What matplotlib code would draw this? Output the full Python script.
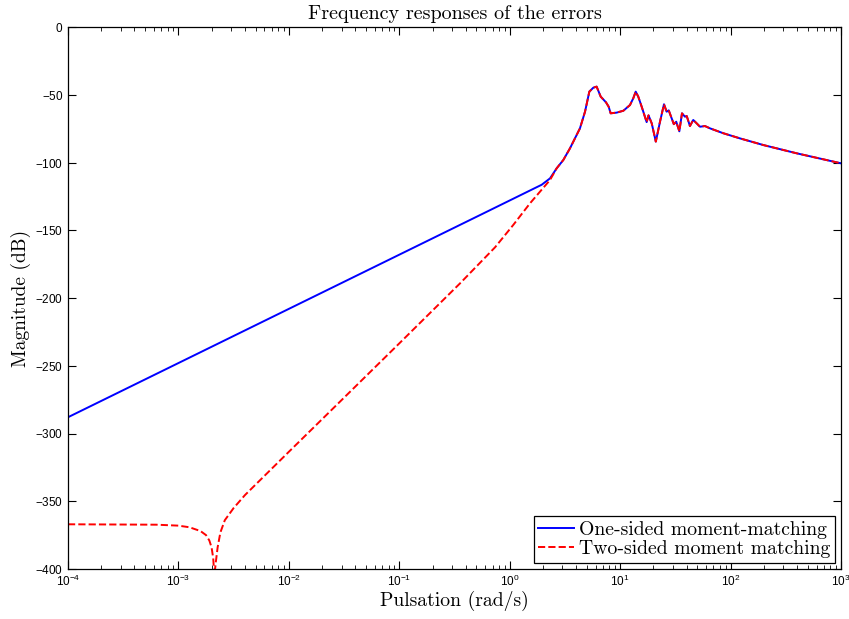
import numpy as np
import matplotlib
matplotlib.use("Agg")
import matplotlib.pyplot as plt
from matplotlib.ticker import LogLocator, NullFormatter

plt.rcParams["mathtext.fontset"] = "custom"
plt.rcParams["mathtext.rm"] = "Liberation Sans"
plt.rcParams["font.family"] = "Liberation Sans"
plt.rcParams["axes.formatter.use_mathtext"] = True

# log10 of the pulsation and the error magnitude in dB
# resonant part, common to both reduced models
lw_hf = [0.425, 0.485, 0.546, 0.636, 0.682, 0.721, 0.757, 0.787, 0.824, 0.872, 0.896,
         0.914, 0.968, 1.029, 1.089, 1.119, 1.141, 1.164, 1.195, 1.240, 1.257,
         1.286, 1.323, 1.361, 1.397, 1.421, 1.440, 1.486, 1.508, 1.536, 1.560,
         1.587, 1.603, 1.632, 1.662, 1.693, 1.723, 1.768, 1.814, 1.934, 2.085,
         2.296, 2.598, 3.0]
db_hf = [-104.3, -98.2, -89.5, -74.8, -62.5, -47.7, -44.8, -44.0, -51.4, -55.6, -58.8,
         -63.7, -63.2, -61.8, -57.6, -52.6, -47.7, -51.4, -58.8, -70.2, -65.2,
         -71.1, -84.6, -69.9, -57.0, -62.5, -61.5, -71.7, -69.9, -77.0, -63.7,
         -66.2, -65.7, -73.1, -68.6, -71.1, -73.6, -73.1, -74.8, -78.4, -82.2,
         -87.1, -93.2, -100.6]

# low frequency part, one-sided
lw_one = [-4.0, -0.269, 0.29, 0.365]
db_one = [-288.0, -138.8, -116.4, -111.7]

# low frequency part, two-sided
lw_two = [-4.0, -3.2, -3.0, -2.9, -2.8, -2.75, -2.72, -2.70, -2.685, -2.675,
          -2.66, -2.645, -2.62, -2.58, -2.5, -2.397, -2.0, -1.537, -1.0, -0.45,
          -0.133, 0.032, 0.184, 0.365]
db_two = [-367.0, -367.3, -368.0, -369.2, -372.0, -375.0, -379.0, -384.0, -392.0, -405.0,
          -394.0, -384.0, -373.0, -364.0, -355.0, -345.4, -313.5, -276.5, -233.5, -189.2,
          -162.6, -146.1, -130.1, -112.9]

w_one = 10.0 ** np.array(lw_one + lw_hf)
m_one = np.array(db_one + db_hf)
w_two = 10.0 ** np.array(lw_two + lw_hf)
m_two = np.array(db_two + db_hf)

fig = plt.figure(figsize=(8.49, 6.19), dpi=100)
ax = fig.add_axes([68 / 849, 1 - 569 / 619, 773 / 849, 542 / 619])

ax.semilogx(w_one, m_one, "b-", lw=1.4, label="One-sided moment-matching")
ax.semilogx(w_two, m_two, "r--", lw=1.4, label="Two-sided moment matching")

ax.set_xlim(1e-4, 1e3)
ax.set_ylim(-400, 0)
ax.set_yticks(np.arange(-400, 1, 50))
ax.xaxis.set_major_locator(LogLocator(base=10, numticks=20))
ax.xaxis.set_minor_locator(LogLocator(base=10, subs=np.arange(2, 10), numticks=20))
ax.xaxis.set_minor_formatter(NullFormatter())
ax.tick_params(which="both", direction="in", top=True, right=True, labelsize=8.5)
ax.tick_params(which="major", length=6, width=0.8)
ax.tick_params(which="minor", length=3, width=0.6)
for s in ax.spines.values():
    s.set_linewidth(0.9)

ax.set_title("Frequency responses of the errors", fontfamily="cmr10", fontsize=14.5, pad=6)
ax.set_xlabel("Pulsation (rad/s)", fontfamily="cmr10", fontsize=14.2, labelpad=1)
ax.set_ylabel("Magnitude (dB)", fontfamily="cmr10", fontsize=14, labelpad=3)

leg = ax.legend(loc="lower right", prop={"family": "cmr10", "size": 14.2},
                fancybox=False, edgecolor="black", framealpha=1,
                borderaxespad=0.3, handlelength=1.8, handletextpad=0.25,
                borderpad=0.25, labelspacing=0.05)
leg.get_frame().set_linewidth(0.9)

fig.savefig("out.png", dpi=100)
